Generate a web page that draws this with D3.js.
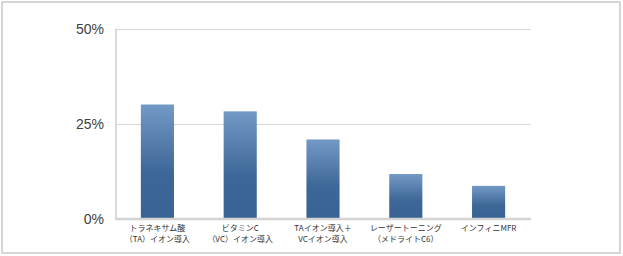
<!DOCTYPE html>
<html lang="ja">
<head>
  <meta charset="UTF-8">
  <title>施術別の効果</title>
  <script src="https://d3js.org/d3.v7.min.js"></script>
  <style>
    html, body { margin: 0; padding: 0; background: #fff; }
    svg { display: block; }
  </style>
</head>
<body>
  <svg width="623" height="256"></svg>

  <script>
    // chart data
    const categories = [
      ["トラネキサム酸", "（TA）イオン導入"],
      ["ビタミンC", "（VC）イオン導入"],
      ["TAイオン導入＋", "VCイオン導入"],
      ["レーザートーニング", "（メドライトC6）"],
      ["インフィニMFR"]
    ];
    const values = [30.0, 28.2, 20.8, 11.7, 8.6];
    const yTicks = [0, 25, 50];

    const svg = d3.select("svg");

    // outer frame
    svg.append("rect")
      .attr("x", 2).attr("y", 2)
      .attr("width", 618).attr("height", 251)
      .attr("fill", "#fff")
      .attr("stroke", "#c9c9c9")
      .attr("stroke-width", 1.5);

    const plot = { left: 116, right: 531, top: 28.5, bottom: 218.5 };

    const x = d3.scaleBand()
      .domain(d3.range(categories.length))
      .range([plot.left, plot.right - 1])
      .paddingInner(0.6)
      .paddingOuter(0.3);

    const y = d3.scaleLinear().domain([0, 50]).range([plot.bottom, plot.top]);

    // gradient for the bars
    const grad = svg.append("defs").append("linearGradient")
      .attr("id", "barGrad")
      .attr("x1", 0).attr("y1", 0).attr("x2", 0).attr("y2", 1);
    grad.append("stop").attr("offset", "0%").attr("stop-color", "#7399c6");
    grad.append("stop").attr("offset", "60%").attr("stop-color", "#3d6797");
    grad.append("stop").attr("offset", "100%").attr("stop-color", "#396394");

    // gridlines
    svg.append("g")
      .selectAll("line")
      .data(yTicks.filter(d => d > 0))
      .join("line")
      .attr("x1", plot.left).attr("x2", plot.right)
      .attr("y1", d => Math.round(y(d)) + 0.5)
      .attr("y2", d => Math.round(y(d)) + 0.5)
      .attr("stroke", "#d6d6d6")
      .attr("stroke-width", 1);

    // y axis line
    svg.append("line")
      .attr("x1", plot.left).attr("x2", plot.left)
      .attr("y1", plot.top).attr("y2", plot.bottom + 1)
      .attr("stroke", "#cfcfcf")
      .attr("stroke-width", 1.5);

    // bars
    svg.append("g")
      .selectAll("rect")
      .data(values)
      .join("rect")
      .attr("x", (d, i) => x(i))
      .attr("width", x.bandwidth())
      .attr("y", d => y(d))
      .attr("height", d => y(0) - y(d))
      .attr("fill", "url(#barGrad)");

    // baseline
    svg.append("line")
      .attr("x1", plot.left - 1).attr("x2", plot.right)
      .attr("y1", y(0) + 0.5).attr("y2", y(0) + 0.5)
      .attr("stroke", "#d3d3d3")
      .attr("stroke-width", 2.5);

    // y tick labels
    svg.append("g")
      .selectAll("text")
      .data(yTicks)
      .join("text")
      .attr("x", 104)
      .attr("y", d => y(d) + 5)
      .attr("text-anchor", "end")
      .attr("font-family", "'Liberation Sans', Arial, sans-serif")
      .attr("font-size", 14)
      .attr("fill", "#404040")
      .text(d => d + "%");

    // category labels, one text per line
    const labelLines = [];
    categories.forEach((lines, i) => {
      lines.forEach((t, j) => labelLines.push({ i, j, t }));
    });

    svg.append("g")
      .selectAll("text")
      .data(labelLines)
      .join("text")
      .attr("x", d => x(d.i) + x.bandwidth() / 2)
      .attr("y", d => 230.5 + d.j * 11.8)
      .attr("text-anchor", "middle")
      .attr("font-family", "'Noto Sans CJK JP', sans-serif")
      .attr("font-size", 8)
      .attr("fill", "#333")
      .text(d => d.t);
  </script>
</body>
</html>
